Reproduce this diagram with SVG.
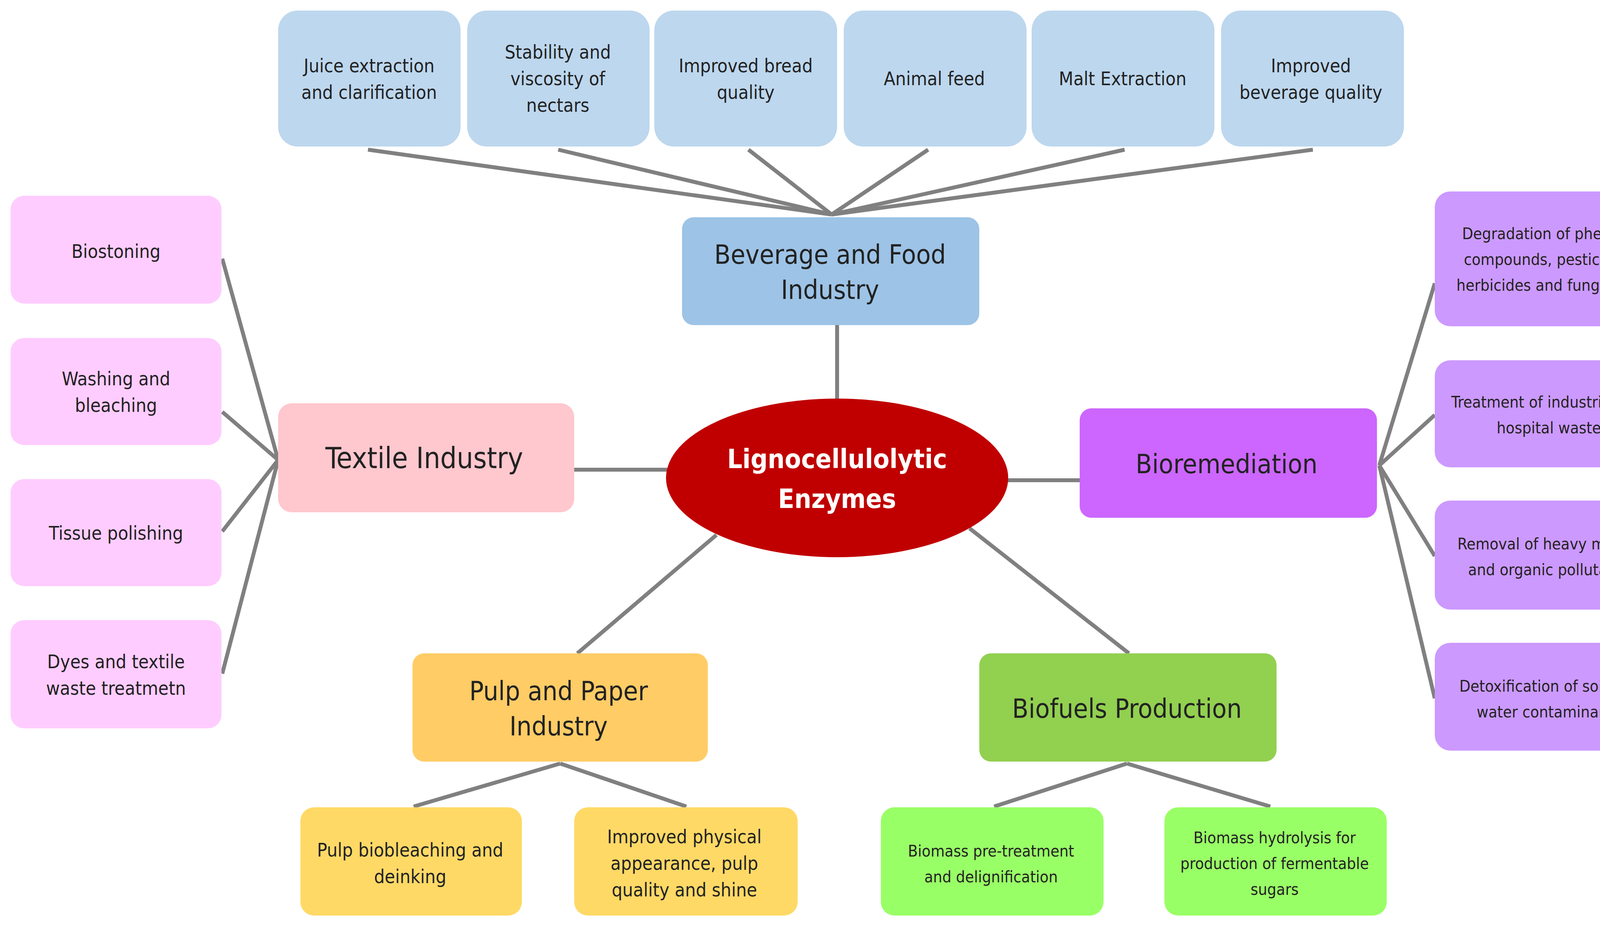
<svg xmlns="http://www.w3.org/2000/svg" width="4292" height="2380" viewBox="0 0 4292 2380">
<style>
text{font-family:"DejaVu Sans Condensed","DejaVu Sans",sans-serif;text-anchor:middle;fill:#222}
.s{font-size:48px}
.n{font-size:41px}
.m{font-size:68px}
.c line{stroke:#808080;stroke-width:10}
.top{fill:#bdd7ee}.lp{fill:#ffccff}.rp{fill:#cc99ff}.py{fill:#ffd966}.gg{fill:#99ff66}
</style>
<rect width="4292" height="2380" fill="#fff"/>
<g class="c">
<line x1="942" y1="383" x2="2129" y2="549"/><line x1="1429" y1="383" x2="2129" y2="549"/><line x1="1916" y1="383" x2="2129" y2="549"/>
<line x1="2376" y1="383" x2="2129" y2="549"/><line x1="2879" y1="383" x2="2129" y2="549"/><line x1="3361" y1="383" x2="2129" y2="549"/>
<line x1="2143" y1="832" x2="2143" y2="1022"/>
<line x1="1470" y1="1202" x2="1708" y2="1202"/>
<line x1="2578" y1="1229" x2="2764" y2="1229"/>
<line x1="1834" y1="1369" x2="1478" y2="1672"/>
<line x1="2482" y1="1352" x2="2890" y2="1672"/>
<line x1="712" y1="1177" x2="569" y2="662"/><line x1="712" y1="1177" x2="569" y2="1054"/><line x1="712" y1="1177" x2="569" y2="1360"/><line x1="712" y1="1177" x2="569" y2="1724"/>
<line x1="3531" y1="1191" x2="3673" y2="725"/><line x1="3531" y1="1191" x2="3673" y2="1062"/><line x1="3531" y1="1191" x2="3673" y2="1423"/><line x1="3531" y1="1191" x2="3673" y2="1787"/>
<line x1="1434" y1="1954" x2="1059" y2="2064"/><line x1="1434" y1="1954" x2="1757" y2="2064"/>
<line x1="2885" y1="1954" x2="2545" y2="2064"/><line x1="2885" y1="1954" x2="3252" y2="2064"/>
</g>
<g id="t1"><rect class="top" x="712" y="27" width="467" height="348" rx="50"/><text class="s" x="945" y="185">Juice extraction</text><text class="s" x="945" y="253">and clarification</text></g>
<g id="t2"><rect class="top" x="1196" y="27" width="467" height="348" rx="50"/><text class="s" x="1428" y="150">Stability and</text><text class="s" x="1428" y="218">viscosity of</text><text class="s" x="1428" y="286">nectars</text></g>
<g id="t3"><rect class="top" x="1675" y="27" width="468" height="348" rx="50"/><text class="s" x="1909" y="185">Improved bread</text><text class="s" x="1909" y="253">quality</text></g>
<g id="t4"><rect class="top" x="2160" y="27" width="468" height="348" rx="50"/><text class="s" x="2392" y="218">Animal feed</text></g>
<g id="t5"><rect class="top" x="2641" y="27" width="468" height="348" rx="50"/><text class="s" x="2874" y="218">Malt Extraction</text></g>
<g id="t6"><rect class="top" x="3126" y="27" width="468" height="348" rx="50"/><text class="s" x="3356" y="185">Improved</text><text class="s" x="3356" y="253">beverage quality</text></g>
<g id="bev"><rect x="1746" y="556" width="761" height="276" rx="30" fill="#9dc3e6"/><text class="m" x="2125" y="675">Beverage and Food</text><text class="m" x="2125" y="765">Industry</text></g>
<g id="center"><ellipse cx="2143" cy="1223" rx="438" ry="203" fill="#c00000"/><text class="m" x="2143" y="1198" style="fill:#fff;font-weight:bold">Lignocellulolytic</text><text class="m" x="2143" y="1300" style="fill:#fff;font-weight:bold">Enzymes</text></g>
<g id="tex"><rect x="712" y="1032" width="758" height="279" rx="35" fill="#ffc7ce"/><text class="m" x="1086" y="1198" style="font-size:74px">Textile Industry</text></g>
<g id="l1"><rect class="lp" x="27" y="501" width="540" height="276" rx="35"/><text class="s" x="297" y="660">Biostoning</text></g>
<g id="l2"><rect class="lp" x="27" y="865" width="540" height="274" rx="35"/><text class="s" x="297" y="986">Washing and</text><text class="s" x="297" y="1054">bleaching</text></g>
<g id="l3"><rect class="lp" x="27" y="1226" width="540" height="274" rx="35"/><text class="s" x="297" y="1381">Tissue polishing</text></g>
<g id="l4"><rect class="lp" x="27" y="1587" width="540" height="277" rx="35"/><text class="s" x="297" y="1710">Dyes and textile</text><text class="s" x="297" y="1778">waste treatmetn</text></g>
<g id="bio"><rect x="2764" y="1045" width="761" height="280" rx="30" fill="#cc66ff"/><text class="m" x="3140" y="1211">Bioremediation</text></g>
<g id="r1"><rect class="rp" x="3673" y="490" width="591" height="345" rx="40"/><text class="n" x="3965" y="612">Degradation of phenolic</text><text class="n" x="3965" y="678">compounds, pesticides,</text><text class="n" x="3965" y="744">herbicides and fungicides</text></g>
<g id="r2"><rect class="rp" x="3673" y="922" width="591" height="274" rx="40"/><text class="n" x="3965" y="1043">Treatment of industrial and</text><text class="n" x="3965" y="1109">hospital waste</text></g>
<g id="r3"><rect class="rp" x="3673" y="1281" width="591" height="279" rx="40"/><text class="n" x="3965" y="1406">Removal of heavy metals</text><text class="n" x="3965" y="1472">and organic pollutants</text></g>
<g id="r4"><rect class="rp" x="3673" y="1645" width="591" height="276" rx="40"/><text class="n" x="3965" y="1770">Detoxification of soil and</text><text class="n" x="3965" y="1836">water contaminants</text></g>
<g id="pulp"><rect x="1056" y="1672" width="756" height="277" rx="30" fill="#ffcc66"/><text class="m" x="1430" y="1792">Pulp and Paper</text><text class="m" x="1430" y="1882">Industry</text></g>
<g id="p1"><rect class="py" x="769" y="2066" width="567" height="277" rx="35"/><text class="s" x="1050" y="2192">Pulp biobleaching and</text><text class="s" x="1050" y="2260">deinking</text></g>
<g id="p2"><rect class="py" x="1470" y="2066" width="572" height="277" rx="35"/><text class="s" x="1752" y="2158">Improved physical</text><text class="s" x="1752" y="2226">appearance, pulp</text><text class="s" x="1752" y="2294">quality and shine</text></g>
<g id="fuel"><rect x="2507" y="1672" width="761" height="277" rx="30" fill="#92d050"/><text class="m" x="2885" y="1837">Biofuels Production</text></g>
<g id="f1"><rect class="gg" x="2255" y="2066" width="570" height="277" rx="35"/><text class="n" x="2537" y="2192">Biomass pre-treatment</text><text class="n" x="2537" y="2258">and delignification</text></g>
<g id="f2"><rect class="gg" x="2981" y="2066" width="569" height="277" rx="35"/><text class="n" x="3263" y="2158">Biomass hydrolysis for</text><text class="n" x="3263" y="2224">production of fermentable</text><text class="n" x="3263" y="2290">sugars</text></g>
</svg>
